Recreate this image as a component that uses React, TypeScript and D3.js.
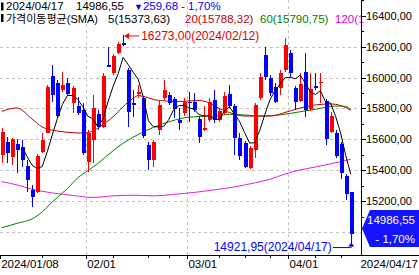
import React, { useEffect } from "react";
import * as d3 from "d3";

// ---- data ----
const opens = [15499,15585,15488,15570,15549,15428,15273,15262,15520,15643,16010,15967,15920,15963,15838,15816,15790,15456,15596,15764,15682,16082,16032,16161,16226,16049,15838,15894,15866,15563,15467,15661,15866,15887,15860,15726,15769,15844,15844,15730,15661,15726,15855,15726,15769,15894,15816,15607,15575,15413,15531,15866,16146,15995,15941,15931,16049,16161,15931,15851,16038,15795,15946,15963,15849,15650,15643,15570,15363,15262];
const highs = [15674,15618,15610,15603,15596,15467,15305,15506,15640,15952,16082,15984,16034,15995,15946,15876,15836,15661,15887,15790,16030,16200,16153,16230,16273,16062,15920,15952,15880,15585,15596,15855,15984,15907,15876,15801,15870,15909,15900,15745,15816,15868,15920,15801,15909,15952,15829,15640,15590,15557,15836,16028,16200,16017,15965,16049,16254,16179,15946,16032,16161,16028,16028,16028,15862,15779,15661,15585,15375,15262];
const lows = [15447,15445,15433,15382,15423,15262,15165,15253,15512,15641,15844,15739,15907,15880,15769,15758,15499,15391,15447,15660,15674,16069,16017,16150,16205,15682,15747,15870,15610,15402,15423,15629,15855,15823,15737,15661,15750,15715,15777,15575,15654,15713,15706,15713,15758,15803,15499,15467,15413,15406,15478,15855,15984,15881,15836,15887,16036,16006,15790,15842,15747,15784,15920,15834,15563,15641,15480,15342,15208,14921.95];
const closes = [15650,15510,15603,15531,15467,15337,15229,15493,15596,15941,15887,15752,15952,15894,15931,15773,15514,15643,15801,15682,16010,16071,16140,16217,16211,15779,15823,15909,15622,15467,15585,15823,15920,15838,15795,15708,15844,15838,15790,15618,15672,15844,15726,15786,15881,15816,15607,15493,15423,15542,15823,16006,16006,15898,15844,16032,16211,16028,15844,15959,15790,15924,15931,15970,15601,15751,15493,15385,15246,14986.55];

const ma5 = [null,null,null,null,15552,15490,15433,15411,15424,15519,15629,15734,15826,15885,15883,15860,15813,15751,15732,15683,15730,15841,15941,16024,16130,16084,16034,15988,15869,15720,15681,15681,15683,15727,15792,15817,15821,15805,15795,15760,15752,15752,15730,15729,15782,15811,15763,15717,15644,15576,15578,15657,15760,15855,15915,15957,15998,16003,15992,16015,15966,15909,15890,15915,15843,15835,15749,15640,15495,15373.63];

const ma20Idx = [0,3,6,8,11,16,18,20,22,24,26,27,28,31,35,39,41,43,45,48,53,56,59,62,65,67,69];
const ma20Val = [15781,15803,15732,15680,15654,15641,15654,15696,15745,15812,15866,15884,15878,15852,15845,15852,15836,15800,15774,15751,15751,15774,15803,15823,15829,15819,15788.32];

const ma60Idx = [0,3,6,8,10,13,15,17,19,21,24,27,30,33,36,39,42,45,48,51,54,57,60,63,66,68,69];
const ma60Val = [15027,15056,15085,15130,15195,15282,15350,15396,15444,15499,15575,15632,15678,15713,15739,15748,15751,15762,15758,15751,15755,15768,15784,15801,15816,15813,15790.75];

const ma120Idx = [0,3,6,10,14,18,22,26,30,34,38,42,46,50,53,56,59,62,65,69];
const ma120Val = [15326,15305,15277,15253,15237,15224,15234,15238,15234,15243,15256,15273,15292,15318,15341,15376,15402,15421,15441,15471];

const yTickVals = [16400,16200,16000,15800,15600,15400,15200];
const yMinorVals = [16500,16300,16100,15900,15700,15500,15300,15100];
const gridVals = [16200,16000,15800,15600,15400,15200,15000];
const xMajorIdx = [0,17,37,57];
const xMajorLabels = ["2024/01/08","02/01","03/01","04/01"];
const xMinorIdx = [8,22,29,33,43,48,53,62,67];
const lastDate = "2024/04/17";
const highDate = "2024/02/12";
const change = 259.68;
const changePct = -1.70;
const legendTitle = "가격이동평균(SMA)";

const FONT = "'Liberation Sans', Arial, 'Noto Sans CJK KR', sans-serif";
const RED = "#ff0000";
const BLUE = "#0000ff";
const fmt = (v: number) => v.toFixed(2).replace(".", ",");

export default function App() {
  useEffect(() => {
    document.body.style.margin = "0";
  }, []);

  const W = 419, H = 275;
  const plotR = 361;
  const axisY = 255;
  const x = d3.scaleLinear().domain([0, 69]).range([1.7, 350.8]);
  const y = d3.scaleLinear().domain([15000, 16200]).range([232, 46.7]);

  const lineGen = d3.line<[number, number]>().x(d => x(d[0])).y(d => y(d[1]));
  const ma5Pts: [number, number][] = ma5.map((v, i) => [i, v as number] as [number, number]).filter(d => d[1] != null);
  const ma20Pts: [number, number][] = ma20Idx.map((i, k) => [i, ma20Val[k]]);
  const ma60Pts: [number, number][] = ma60Idx.map((i, k) => [i, ma60Val[k]]);
  const ma120Pts: [number, number][] = ma120Idx.map((i, k) => [i, ma120Val[k]]);
  const smooth = d3.line<[number, number]>().x(d => x(d[0])).y(d => y(d[1])).curve(d3.curveMonotoneX);

  const n = closes.length;
  const hiIdx = highs.indexOf(d3.max(highs) as number);
  const loIdx = lows.indexOf(d3.min(lows) as number);
  const last = closes[n - 1];
  const ma120Label = `120(${fmt(ma120Val[ma120Val.length - 1])})`.slice(0, 5);

  return (
    <svg width={W} height={H} style={{ position: "absolute", left: 0, top: 0, background: "#fff" }} fontFamily={FONT}>
      <rect x={0} y={0} width={W} height={H} fill="#fff" />
      {/* grid */}
      <g stroke="#c4c4c4" strokeDasharray="3,3" shapeRendering="crispEdges">
        {gridVals.map(v => (
          <line key={v} x1={0} x2={plotR} y1={Math.round(y(v)) + 0.5} y2={Math.round(y(v)) + 0.5} />
        ))}
        {xMajorIdx.slice(1).map(i => (
          <line key={i} x1={Math.round(x(i) - 2) + 0.5} x2={Math.round(x(i) - 2) + 0.5} y1={0} y2={axisY} />
        ))}
      </g>

      {/* moving averages */}
      <path d={smooth(ma120Pts) || ""} fill="none" stroke="#e020e0" strokeWidth={1} />
      <path d={smooth(ma60Pts) || ""} fill="none" stroke="#008000" strokeWidth={1} />
      <path d={smooth(ma20Pts) || ""} fill="none" stroke="#c00000" strokeWidth={1} />

      {/* candles */}
      <g shapeRendering="crispEdges">
        {closes.map((c, i) => {
          const o = opens[i];
          const up = c >= o;
          const col = up ? RED : BLUE;
          const cx = Math.round(x(i));
          const top = y(Math.max(o, c));
          const bot = y(Math.min(o, c));
          return (
            <g key={i}>
              <rect x={cx} y={y(highs[i])} width={1} height={Math.max(1, y(lows[i]) - y(highs[i]))} fill={col} />
              <rect x={cx - 1.5} y={top} width={4} height={Math.max(1, bot - top)} fill={col} />
            </g>
          );
        })}
      </g>
      <path d={lineGen(ma5Pts) || ""} fill="none" stroke="#000" strokeWidth={1} />

      {/* high annotation */}
      <g stroke={RED} fill={RED}>
        <line x1={x(hiIdx) + 2} x2={x(hiIdx) + 16} y1={y(highs[hiIdx]) + 0.5} y2={y(highs[hiIdx]) + 0.5} />
        <path d={`M${x(hiIdx) + 1},${y(highs[hiIdx]) + 0.5} l5,-3 l0,6 z`} stroke="none" />
      </g>
      <text x={x(hiIdx) + 18} y={y(highs[hiIdx]) + 4.5} fontSize={12} fill="#e00000">
        {`${fmt(highs[hiIdx])}(${highDate})`}
      </text>

      {/* low annotation */}
      <g stroke={BLUE} fill={BLUE}>
        <line x1={x(loIdx) - 18} x2={x(loIdx)} y1={y(lows[loIdx]) + 3.5} y2={y(lows[loIdx]) + 3.5} />
        <line x1={x(loIdx) + 0.5} x2={x(loIdx) + 0.5} y1={y(lows[loIdx]) + 3.5} y2={y(lows[loIdx]) + 1} />
        <path d={`M${x(loIdx) + 0.5},${y(lows[loIdx]) - 1.5} l-3,4 l6,0 z`} stroke="none" />
      </g>
      <text x={x(loIdx) - 19} y={y(lows[loIdx]) + 6.5} fontSize={12} fill={BLUE} textAnchor="end">
        {`${fmt(lows[loIdx])}(${lastDate})`}
      </text>

      {/* legend */}
      <rect x={1} y={2.5} width={2.5} height={8} fill="#000" />
      <text y={10.3} fontSize={11.5}>
        <tspan x={6} fill="#000">{lastDate}</tspan>
        <tspan x={76} fill="#000">{fmt(last)}</tspan>
        <tspan x={134} fill={BLUE} fontSize={9}>▼</tspan>
        <tspan fill={BLUE}>{fmt(change)}</tspan>
        <tspan x={181} fill={BLUE}>{`- ${fmt(Math.abs(changePct))}%`}</tspan>
      </text>
      <rect x={1} y={14} width={2.5} height={8} fill="#000" />
      <text y={22.8} fontSize={11.5}>
        <tspan x={6} fill="#000" fontSize={11}>{legendTitle}</tspan>
        <tspan x={108} fill="#000">{`5(${fmt(ma5[n - 1] as number)})`}</tspan>
        <tspan x={185} fill="#c00000">{`20(${fmt(ma20Val[ma20Val.length - 1])})`}</tspan>
        <tspan x={260} fill="#008000">{`60(${fmt(ma60Val[ma60Val.length - 1])})`}</tspan>
        <tspan x={335} fill="#e000e0">{ma120Label}</tspan>
      </text>

      {/* right axis */}
      <g shapeRendering="crispEdges" stroke="#000">
        <line x1={plotR + 0.5} x2={plotR + 0.5} y1={0} y2={axisY} />
        {yTickVals.map(v => (
          <line key={v} x1={plotR} x2={plotR + 5} y1={Math.round(y(v)) + 0.5} y2={Math.round(y(v)) + 0.5} />
        ))}
        {yMinorVals.map(v => (
          <line key={v} x1={plotR} x2={plotR + 3} y1={Math.round(y(v)) + 0.5} y2={Math.round(y(v)) + 0.5} />
        ))}
      </g>
      {yTickVals.map(v => (
        <text key={v} x={366} y={y(v) + 4} fontSize={11} fill="#000">{fmt(v)}</text>
      ))}

      {/* price box */}
      <path d={`M${plotR + 1},${y(last) - 5.5} L${plotR + 9},${y(last) - 24} L${W},${y(last) - 24} L${W},${y(last) + 13} L${plotR + 9},${y(last) + 13} Z`} fill="#1414ff" />
      <text x={415} y={y(last) - 10.5} fontSize={11.5} fill="#fff" textAnchor="end">{fmt(last)}</text>
      <text x={415} y={y(last) + 9} fontSize={11.5} fill="#fff" textAnchor="end">{`- ${fmt(Math.abs(changePct))}%`}</text>

      {/* bottom axis */}
      <g shapeRendering="crispEdges" stroke="#000">
        <line x1={0} x2={W} y1={axisY + 0.5} y2={axisY + 0.5} />
        {xMajorIdx.map(i => (
          <line key={i} x1={Math.round(x(i) - 2) + 0.5} x2={Math.round(x(i) - 2) + 0.5} y1={axisY} y2={axisY + 4} />
        ))}
        {xMinorIdx.map(i => (
          <line key={i} x1={Math.round(x(i)) + 0.5} x2={Math.round(x(i)) + 0.5} y1={axisY} y2={axisY + 3} />
        ))}
      </g>
      {xMajorIdx.map((i, k) => (
        <text key={i} x={Math.max(0, x(i) - 0.5)} y={267.5} fontSize={11.5} fill="#000">{xMajorLabels[k]}</text>
      ))}
      <text x={W - 1} y={267.5} fontSize={11.5} fill="#000" textAnchor="end">{lastDate}</text>
    </svg>
  );
}
